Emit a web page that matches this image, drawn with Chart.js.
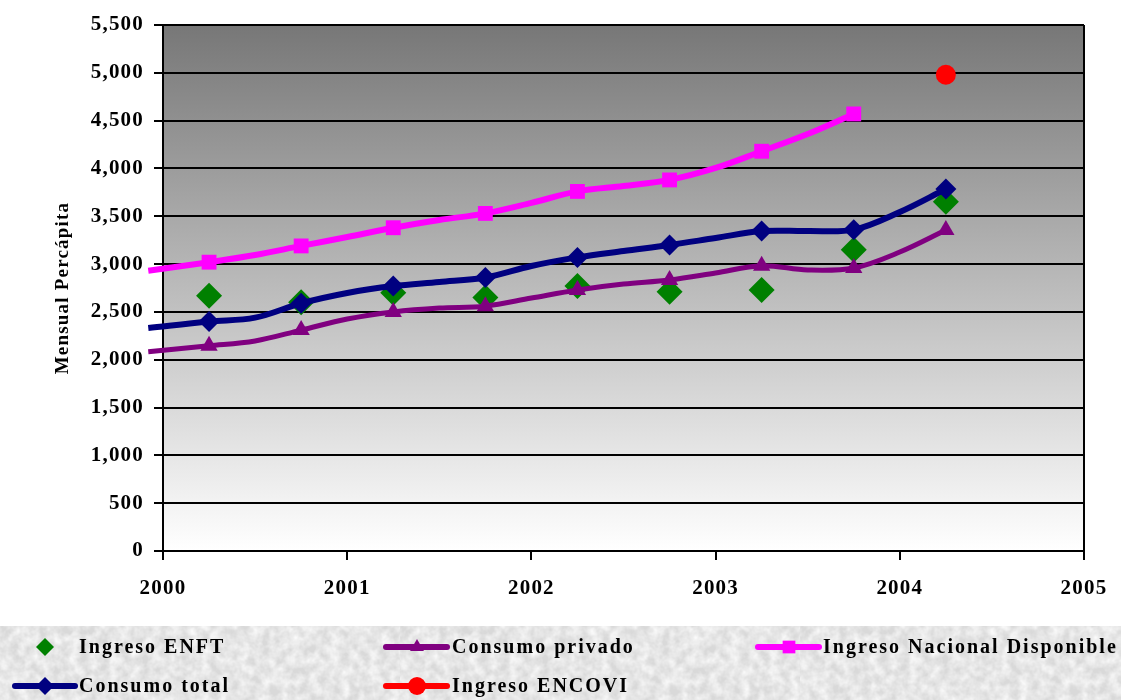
<!DOCTYPE html>
<html>
<head>
<meta charset="utf-8">
<script src="https://cdn.jsdelivr.net/npm/chart.js@4.4.1/dist/chart.umd.min.js"></script>
<style>
  html, body { margin: 0; padding: 0; background: #fff; }
  #wrap { position: relative; width: 1121px; height: 700px; }
  #legendBg {
    position: absolute; left: 0; top: 626px; width: 1121px; height: 74px;
    background-color: #d9d9d9;
    background-image: url("data:image/svg+xml;utf8,<svg xmlns='http://www.w3.org/2000/svg' width='400' height='74'><filter id='n'><feTurbulence type='fractalNoise' baseFrequency='0.1' numOctaves='3' seed='4'/><feColorMatrix type='matrix' values='0 0 0 0 1  0 0 0 0 1  0 0 0 0 1  0 0 0 1.4 -0.35'/></filter><rect width='400' height='74' filter='url(%23n)'/></svg>");
  }
  #chart { position: absolute; left: 0; top: 0; }
</style>
</head>
<body>
<div id="wrap">
  <div id="legendBg"></div>
  <canvas id="chart" width="1121" height="700"></canvas>
</div>
<script>
// Quarterly positions for the national accounts series
const quarters = [1999.92, 2000.25, 2000.5, 2000.75, 2001, 2001.25, 2001.5, 2001.75, 2002,
                  2002.25, 2002.5, 2002.75, 2003, 2003.25, 2003.5, 2003.75, 2004, 2004.25];
// Survey points (half-year marks)
const surveyYears = [2000.25, 2000.75, 2001.25, 2001.75, 2002.25, 2002.75, 2003.25, 2003.75, 2004.25];

const ingresoNacional = [2931, 3020, 3095, 3190, 3283, 3380, 3461, 3530, 3640,
                         3760, 3816, 3880, 4005, 4180, 4360, 4570];
const consumoTotal = [2332, 2400, 2440, 2590, 2698, 2770, 2813, 2860, 2980,
                      3070, 3137, 3200, 3273, 3345, 3346, 3360, 3545, 3785];
const consumoPrivado = [2084, 2145, 2196, 2310, 2426, 2500, 2541, 2560, 2645,
                        2730, 2792, 2834, 2907, 2983, 2938, 2959, 3126, 3356];
const ingresoENFT = [2670, 2600, 2700, 2650, 2770, 2710, 2729, 3150, 3652];
const encoviYear = [2004.25];
const ingresoENCOVI = [4980];

const yearTicks = [2000, 2001, 2002, 2003, 2004, 2005];

const FONT = 'Liberation Serif, "Times New Roman", serif';

function pairs(xs, ys) {
    return ys.map((y, i) => ({ x: xs[i], y: y }));
}

// markers only on the half-year points of the quarterly series
function markerRadius(r) {
    return ctx => (ctx.dataIndex % 2 === 1 ? r : 0);
}

const datasets = [
    {
        label: 'Ingreso ENFT',
        data: pairs(surveyYears, ingresoENFT),
        showLine: false,
        pointStyle: 'rectRot',
        pointRadius: 13,
        backgroundColor: '#008000',
        borderColor: '#008000',
        borderWidth: 0,
        order: 4
    },
    {
        label: 'Consumo privado',
        data: pairs(quarters, consumoPrivado),
        borderColor: '#800080',
        backgroundColor: '#800080',
        borderWidth: 5,
        tension: 0.35,
        pointStyle: 'triangle',
        pointRadius: markerRadius(10),
        pointBorderWidth: 0,
        clip: false,
        order: 3
    },
    {
        label: 'Ingreso Nacional Disponible',
        data: pairs(quarters, ingresoNacional),
        borderColor: '#ff00ff',
        backgroundColor: '#ff00ff',
        borderWidth: 6,
        tension: 0.35,
        pointStyle: 'rect',
        pointRadius: markerRadius(10.5),
        pointBorderWidth: 0,
        clip: false,
        order: 2
    },
    {
        label: 'Consumo total',
        data: pairs(quarters, consumoTotal),
        borderColor: '#000080',
        backgroundColor: '#000080',
        borderWidth: 6,
        tension: 0.35,
        pointStyle: 'rectRot',
        pointRadius: markerRadius(10.5),
        pointBorderWidth: 0,
        clip: false,
        order: 1
    },
    {
        label: 'Ingreso ENCOVI',
        data: pairs(encoviYear, ingresoENCOVI),
        borderColor: '#ff0000',
        backgroundColor: '#ff0000',
        borderWidth: 6,
        showLine: false,
        pointStyle: 'circle',
        pointRadius: 10,
        pointBorderWidth: 0,
        order: 0
    }
];

// legend slots: [line start, marker x, line end, text x, row y]
const legendSlots = {
    'Ingreso ENFT':                [null, 45, null, 79, 647],
    'Consumo privado':             [386, 417, 447, 452, 647],
    'Ingreso Nacional Disponible': [758, 789, 819, 823, 647],
    'Consumo total':               [15, 45, 75, 79, 686],
    'Ingreso ENCOVI':              [386, 417, 447, 452, 686]
};
const legendMarker = { 'Ingreso ENFT': 9, 'Consumo privado': 8, 'Ingreso Nacional Disponible': 9,
                       'Consumo total': 9, 'Ingreso ENCOVI': 9 };

// wider text spacing for the axis labels
const textSpacing = {
    id: 'textSpacing',
    beforeLayout(chart) { chart.ctx.letterSpacing = '1.2px'; },
    beforeDraw(chart) { chart.ctx.letterSpacing = '1.2px'; }
};

const plotBackground = {
    id: 'plotBackground',
    beforeDraw(chart) {
        const { ctx, chartArea: a } = chart;
        const g = ctx.createLinearGradient(0, a.top, 0, a.bottom);
        g.addColorStop(0, '#777777');
        g.addColorStop(1, '#ffffff');
        ctx.save();
        ctx.fillStyle = g;
        ctx.fillRect(a.left, a.top, a.right - a.left, a.bottom - a.top);
        ctx.restore();
    }
};

const bottomLegend = {
    id: 'bottomLegend',
    afterDraw(chart) {
        const ctx = chart.ctx;
        ctx.save();
        chart.data.datasets.forEach(ds => {
            const s = legendSlots[ds.label];
            const y = s[4];
            if (s[0] !== null) {
                ctx.strokeStyle = ds.borderColor;
                ctx.lineWidth = 6;
                ctx.lineCap = 'round';
                ctx.beginPath();
                ctx.moveTo(s[0], y);
                ctx.lineTo(s[2], y);
                ctx.stroke();
            }
            ctx.fillStyle = ds.backgroundColor;
            ctx.strokeStyle = ds.backgroundColor;
            ctx.lineWidth = 0;
            Chart.helpers.drawPoint(ctx, {
                pointStyle: ds.pointStyle, radius: legendMarker[ds.label], rotation: 0, borderWidth: 0
            }, s[1], y);
            ctx.fillStyle = '#000';
            ctx.font = 'bold 20px ' + FONT;
            ctx.letterSpacing = '2px';
            ctx.textBaseline = 'middle';
            ctx.textAlign = 'left';
            ctx.fillText(ds.label, s[3], y + 1);
        });
        ctx.restore();
    }
};

new Chart(document.getElementById('chart'), {
    type: 'line',
    data: { datasets: datasets },
    plugins: [textSpacing, plotBackground, bottomLegend],
    options: {
        responsive: false,
        animation: false,
        layout: { padding: { left: 48, top: 25, right: 37, bottom: 100 } },
        plugins: {
            legend: { display: false },
            tooltip: { enabled: false }
        },
        scales: {
            x: {
                type: 'linear',
                min: 2000,
                max: 2005,
                afterBuildTicks: scale => { scale.ticks = yearTicks.map(v => ({ value: v })); },
                afterFit: scale => {
                    scale.height = 49;
                    scale.paddingLeft = 0;
                    scale.paddingRight = 0;
                },
                ticks: {
                    color: '#000',
                    padding: 16,
                    font: { family: FONT, size: 21, weight: 'bold' },
                    callback: v => String(v)
                },
                grid: {
                    color: ctx => (ctx.tick && ctx.tick.value === 2005 ? '#000' : 'rgba(0,0,0,0)'),
                    tickColor: '#000',
                    tickLength: 9,
                    lineWidth: 2
                },
                border: { color: '#000', width: 2 }
            },
            y: {
                min: 0,
                max: 5500,
                afterFit: scale => { scale.width = 163 - 48; },
                ticks: {
                    stepSize: 500,
                    color: '#000',
                    padding: 10,
                    font: { family: FONT, size: 21, weight: 'bold' },
                    callback: v => v.toLocaleString('en-US')
                },
                grid: { color: '#000', tickColor: '#000', tickLength: 9, lineWidth: 2 },
                border: { color: '#000', width: 2 },
                title: {
                    display: true,
                    text: 'Mensual Percápita',
                    color: '#000',
                    padding: { top: 4, bottom: 0 },
                    font: { family: FONT, size: 19, weight: 'bold' }
                }
            }
        }
    }
});
</script>
</body>
</html>
